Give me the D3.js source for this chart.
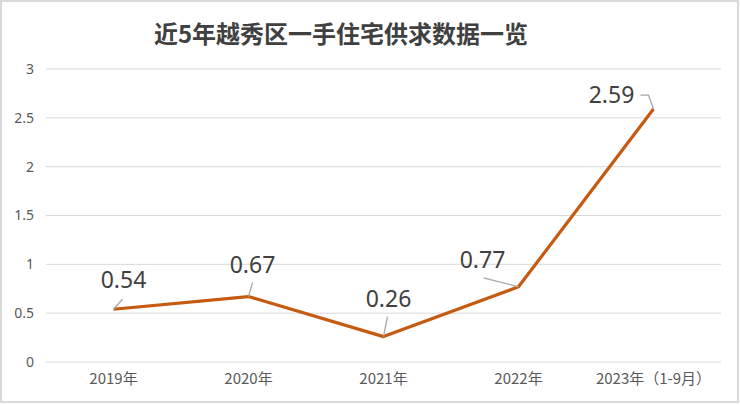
<!DOCTYPE html>
<html><head><meta charset="utf-8">
<script src="https://cdn.jsdelivr.net/npm/d3@7"></script>
<style>body{margin:0;background:#fff;} svg{display:block;}</style>
</head><body>
<svg id="c" width="740" height="405"></svg>
<script>
const categories = ["2019年","2020年","2021年","2022年","2023年（1-9月）"];
const values = [0.54, 0.67, 0.26, 0.77, 2.59];
const yTicks = [0, 0.5, 1, 1.5, 2, 2.5, 3];
const title = "近5年越秀区一手住宅供求数据一览";

const svg = d3.select("#c");
const W = 740, H = 405;
svg.append("rect").attr("x",1).attr("y",1).attr("width",W-3).attr("height",H-4)
  .attr("fill","#fff").attr("stroke","#d9d9d9").attr("stroke-width",2);

const x = d3.scaleBand().domain(categories).range([46,721]);
const y = d3.scaleLinear().domain([0,3]).range([362,69]);

const numFont = "'Noto Sans','Open Sans',sans-serif";
const cjk = "'Noto Sans CJK SC','Noto Sans',sans-serif";

svg.append("text").attr("x",341).attr("y",43).attr("text-anchor","middle")
  .attr("font-family",cjk).attr("font-weight","bold").attr("font-size",24)
  .attr("fill","#404040").text(title);

// grid
svg.append("g").selectAll("line").data(yTicks).join("line")
  .attr("x1",46).attr("x2",721).attr("y1",d=>y(d)).attr("y2",d=>y(d))
  .attr("stroke","#d9d9d9").attr("stroke-width",1);

// y axis labels
const yAxis = d3.axisLeft(y).tickValues(yTicks).tickSize(0).tickPadding(0).tickFormat(d3.format("~g"));
const ga = svg.append("g").attr("transform","translate(34,0)").call(yAxis);
ga.select(".domain").remove();
ga.selectAll("text").attr("font-family",numFont).attr("font-size",14).attr("fill","#595959");

// x axis labels
const xAxis = d3.axisBottom(x).tickSize(0).tickPadding(0);
const gx = svg.append("g").attr("transform","translate(0,373)").call(xAxis);
gx.select(".domain").remove();
gx.selectAll("text").attr("font-family",cjk).attr("font-size",15).attr("fill","#595959");

const cx = d => x(d) + x.bandwidth()/2;
const pts = categories.map((c,i)=>[cx(c), y(values[i])]);

svg.append("path").datum(pts).attr("d", d3.line())
  .attr("fill","none").attr("stroke","#C55A11").attr("stroke-width",3.2)
  .attr("stroke-linejoin","round");

// label offsets (relative to point): text center dx, baseline dy, leader path
const lab = [
  {dx:10, dy:-21, lead:[[0,0],[9,-10]]},
  {dx:4, dy:-24, lead:[[0,0],[4,-14]]},
  {dx:5, dy:-30, lead:[[0,0],[4,-20]]},
  {dx:-36, dy:-19, lead:[[0,0],[-35,-9]]},
  {dx:-42, dy:-6, lead:[[0,0],[-5,-14],[-13,-14]]}
];
const g = svg.append("g");
values.forEach((v,i)=>{
  const [px,py] = pts[i];
  g.append("path").attr("d", d3.line()(lab[i].lead.map(p=>[px+p[0],py+p[1]])))
    .attr("fill","none").attr("stroke","#a6a6a6").attr("stroke-width",1.3);
  g.append("text").attr("x",px+lab[i].dx).attr("y",py+lab[i].dy)
    .attr("text-anchor","middle").attr("font-family",numFont).attr("font-size",23)
    .attr("fill","#404040").text(d3.format(".2f")(v));
});
</script>
</body></html>
